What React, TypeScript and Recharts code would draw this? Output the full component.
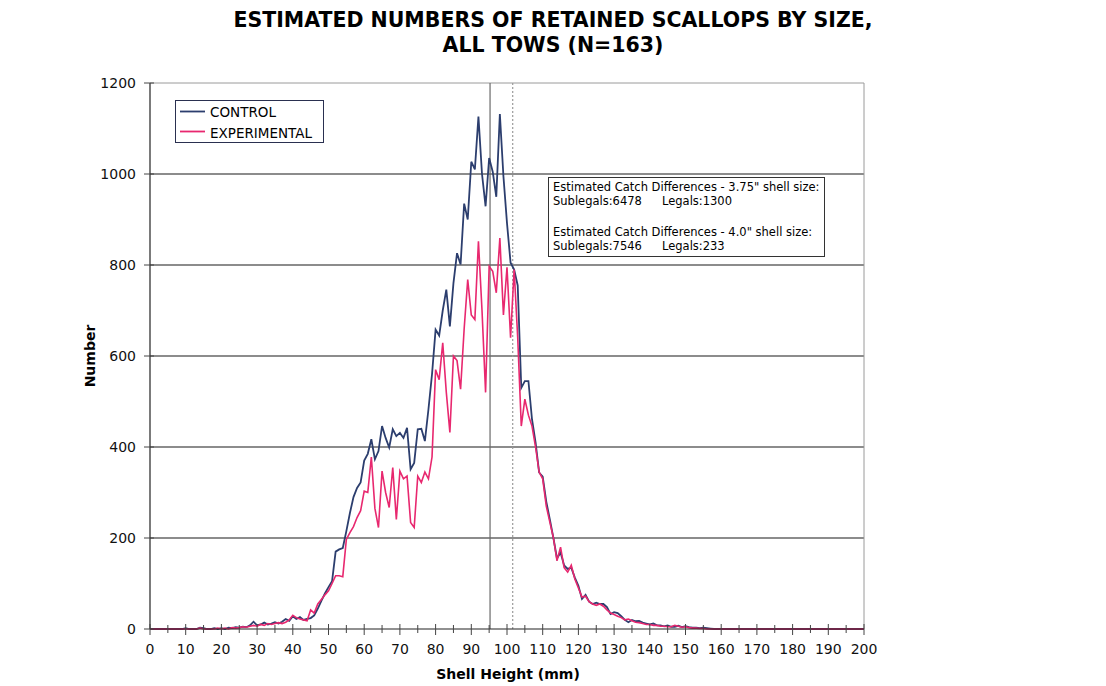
import React from 'react';
import { LineChart, Line, XAxis, YAxis, CartesianGrid, ReferenceLine } from 'recharts';

const FONT = '"DejaVu Sans", Verdana, sans-serif';

// Shell height categories (mm), one per millimetre 0..200
const shellHeight: number[] = Array.from({ length: 201 }, (_, i) => i);

// CONTROL series, index = shell height (mm)
const control: number[] = [
  0, 0, 0, 0, 0, 0, 0, 0, 0, 0,
  2, 0, 0, 0, 3, 2, 0, 0, 2, 0,
  2, 0, 3, 2, 4, 3, 5, 4, 8, 16,
  8, 10, 14, 10, 12, 15, 12, 16, 22, 18,
  28, 22, 26, 20, 22, 24, 30, 45, 62, 78,
  92, 105, 170, 175, 178, 215, 255, 290, 310, 322,
  370, 385, 417, 373, 391, 446, 420, 399, 439, 424,
  431, 420, 442, 351, 365, 439, 440, 413, 483, 560,
  658, 645, 700, 746, 665, 760, 826, 801, 935, 900,
  1027, 1010, 1126, 1000, 929, 1035, 1005, 950, 1132, 995,
  892, 805, 790, 755, 530, 545, 545, 461, 410, 344,
  335, 280, 241, 200, 155, 168, 140, 132, 135, 113,
  95, 66, 75, 60, 55, 58, 55, 55, 48, 33,
  37, 35, 28, 20, 15, 20, 17, 18, 14, 12,
  10, 12, 8, 8, 6, 8, 5, 5, 7, 4,
  6, 4, 3, 3, 2, 3, 2, 1, 0, 0,
  0, 0, 0, 0, 0, 0, 0, 0, 0, 0,
  0, 0, 0, 0, 0, 0, 0, 0, 0, 0,
  0, 0, 0, 0, 0, 0, 0, 0, 0, 0,
  0, 0, 0, 0, 0, 0, 0, 0, 0, 0,
  0,
];

// EXPERIMENTAL series, index = shell height (mm)
const experimental: number[] = [
  0, 0, 0, 0, 0, 0, 0, 0, 0, 0,
  0, 0, 0, 0, 2, 0, 0, 0, 0, 2,
  0, 2, 0, 3, 2, 3, 5, 4, 6, 8,
  6, 10, 8, 12, 10, 12, 14, 12, 15, 20,
  30, 25, 22, 20, 18, 42, 35, 55, 65, 75,
  84, 100, 117, 117, 115, 197, 212, 225, 245, 260,
  303, 300, 378, 265, 223, 347, 300, 267, 355, 241,
  347, 330, 336, 234, 223, 336, 322, 345, 330, 378,
  570, 548, 629, 520, 432, 600, 590, 527, 660, 768,
  690, 680, 852, 700, 520, 797, 786, 739, 859, 690,
  795, 640, 790, 640, 446, 505, 470, 446, 400, 345,
  330, 270, 235, 200, 150, 180, 135, 125, 140, 110,
  90, 70, 72, 60, 55, 52, 55, 50, 42, 35,
  32, 28, 25, 20, 22, 18, 15, 14, 12, 10,
  10, 8, 8, 6, 6, 5, 5, 8, 6, 4,
  5, 3, 2, 2, 1, 1, 0, 0, 0, 0,
  0, 0, 0, 0, 0, 0, 0, 0, 0, 0,
  0, 0, 0, 0, 0, 0, 0, 0, 0, 0,
  0, 0, 0, 0, 0, 0, 0, 0, 0, 0,
  0, 0, 0, 0, 0, 0, 0, 0, 0, 0,
  0,
];

const xTicks: number[] = [
  0, 5, 10, 15, 20, 25, 30, 35, 40, 45, 50, 55, 60, 65, 70, 75, 80, 85, 90, 95, 100,
  105, 110, 115, 120, 125, 130, 135, 140, 145, 150, 155, 160, 165, 170, 175, 180, 185, 190, 195, 200,
];
const yTicks: number[] = [0, 200, 400, 600, 800, 1000, 1200];
const gridValues: number[] = [200, 400, 600, 800, 1000];

const titleLines: string[] = ['ESTIMATED NUMBERS OF RETAINED SCALLOPS BY SIZE,', 'ALL TOWS (N=163)'];
const seriesNames: string[] = ['CONTROL', 'EXPERIMENTAL'];
const noteLines: string[][] = [
  ['Estimated Catch Differences - 3.75" shell size:'],
  ['Sublegals:6478', 'Legals:1300'],
  ['Estimated Catch Differences - 4.0" shell size:'],
  ['Sublegals:7546', 'Legals:233'],
];
const legalSizes: number[] = [95.25, 101.6]; // 3.75" and 4.0" in mm

const data = shellHeight.map((mm, i) => ({ mm, control: control[i], experimental: experimental[i] }));

const CONTROL_COLOR = '#2c3e6e';
const EXP_COLOR = '#e8286f';

const XTick = (props: any) => {
  const { x, y, payload } = props;
  const v = payload.value as number;
  const major = v % 10 === 0;
  return (
    <g>
      <line x1={x} x2={x} y1={y - (major ? 5 : 4)} y2={y + (major ? 6 : 4)} stroke="#444" strokeWidth={1} />
      {major && (
        <text x={x} y={y + 25} textAnchor="middle" fontSize={14} fontFamily={FONT} fill="#111">
          {v}
        </text>
      )}
    </g>
  );
};

const YTick = (props: any) => {
  const { x, y, payload } = props;
  return (
    <g>
      <line x1={x - 6} x2={x + 4} y1={y} y2={y} stroke="#444" strokeWidth={1} />
      <text x={x - 14} y={y + 5} textAnchor="end" fontSize={14} fontFamily={FONT} fill="#111">
        {payload.value}
      </text>
    </g>
  );
};

export default function App() {
  return (
    <div style={{ position: 'absolute', left: 0, top: 0, width: 1106, height: 686, background: '#fff' }}>
      <LineChart
        width={1106}
        height={686}
        data={data}
        margin={{ top: 83, right: 242, bottom: 27, left: 90 }}
      >
        <CartesianGrid horizontal={false} vertical={false} />
        {gridValues.map((v) => (
          <ReferenceLine key={'g' + v} y={v} stroke="#1a1a1a" strokeWidth={1.2} />
        ))}
        <ReferenceLine y={1200} stroke="#9a9a9a" strokeWidth={1} />
        <ReferenceLine x={200} stroke="#9a9a9a" strokeWidth={1} />
        <ReferenceLine x={legalSizes[0]} stroke="#6a6a6a" strokeWidth={1.2} />
        <ReferenceLine x={legalSizes[1]} stroke="#9a9a9a" strokeWidth={1.2} strokeDasharray="2 2" />
        <XAxis
          dataKey="mm"
          type="number"
          domain={[0, 200]}
          ticks={xTicks}
          interval={0}
          tickSize={0}
          tickMargin={0}
          tick={<XTick />}
          height={30}
          stroke="#222"
          axisLine={{ stroke: '#222', strokeWidth: 1.2 }}
        />
        <YAxis
          type="number"
          domain={[0, 1200]}
          ticks={yTicks}
          interval={0}
          tickSize={0}
          tickMargin={0}
          tick={<YTick />}
          width={60}
          axisLine={{ stroke: '#222', strokeWidth: 1.2 }}
        />
        <Line
          type="linear"
          dataKey="control"
          name={seriesNames[0]}
          stroke={CONTROL_COLOR}
          strokeWidth={1.8}
          dot={false}
          isAnimationActive={false}
        />
        <Line
          type="linear"
          dataKey="experimental"
          name={seriesNames[1]}
          stroke={EXP_COLOR}
          strokeWidth={1.6}
          dot={false}
          isAnimationActive={false}
        />
      </LineChart>
      <svg
        width={1106}
        height={686}
        style={{ position: 'absolute', left: 0, top: 0, pointerEvents: 'none' }}
        fontFamily={FONT}
      >
        <text x={553} y={27} textAnchor="middle" fontSize={20.5} fontWeight="bold" fill="#000">
          {titleLines[0]}
        </text>
        <text x={553} y={52} textAnchor="middle" fontSize={20.5} fontWeight="bold" fill="#000">
          {titleLines[1]}
        </text>
        <text transform="translate(95,356) rotate(-90)" textAnchor="middle" fontSize={14} fontWeight="bold" fill="#000">
          Number
        </text>
        <text x={508} y={679} textAnchor="middle" fontSize={14} fontWeight="bold" fill="#000">
          Shell Height (mm)
        </text>
        {/* legend */}
        <rect x={175.5} y={100.5} width={148} height={42} fill="#fff" stroke="#2a3050" strokeWidth={1} />
        <line x1={180} x2={205} y1={111.5} y2={111.5} stroke={CONTROL_COLOR} strokeWidth={1.8} />
        <text x={210} y={116.5} fontSize={13.5} fill="#000">{seriesNames[0]}</text>
        <line x1={180} x2={205} y1={131.5} y2={131.5} stroke={EXP_COLOR} strokeWidth={1.8} />
        <text x={210} y={138} fontSize={13.5} fill="#000">{seriesNames[1]}</text>
        {/* annotation box */}
        <rect x={548.5} y={177.5} width={276} height={79} fill="#fff" stroke="#333" strokeWidth={1} />
        <text x={553} y={190.5} fontSize={11.5} fill="#000">{noteLines[0][0]}</text>
        <text x={553} y={204.5} fontSize={11.5} fill="#000">{noteLines[1][0]}</text>
        <text x={662} y={204.5} fontSize={11.5} fill="#000">{noteLines[1][1]}</text>
        <text x={553} y={236} fontSize={11.5} fill="#000">{noteLines[2][0]}</text>
        <text x={553} y={249.5} fontSize={11.5} fill="#000">{noteLines[3][0]}</text>
        <text x={662} y={249.5} fontSize={11.5} fill="#000">{noteLines[3][1]}</text>
      </svg>
    </div>
  );
}
